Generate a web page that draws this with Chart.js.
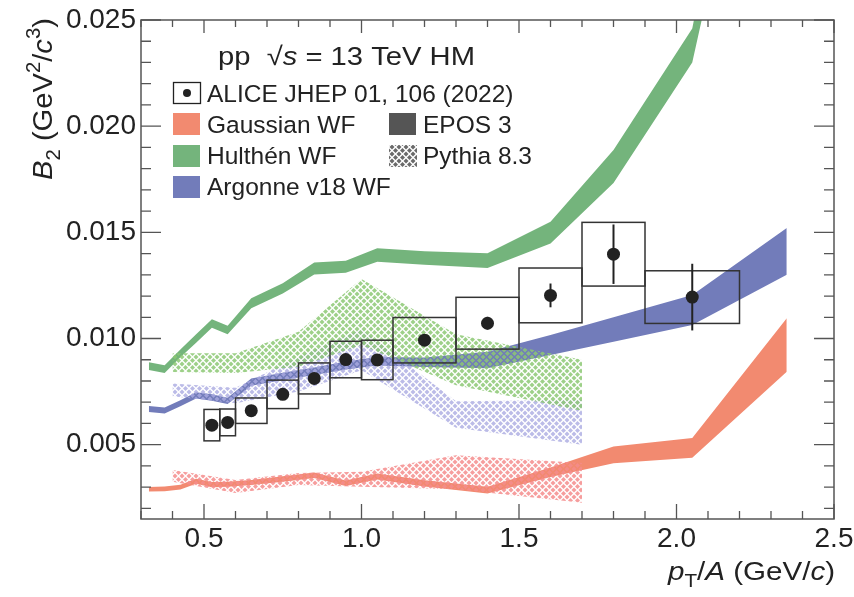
<!DOCTYPE html>
<html><head><meta charset="utf-8">
<script src="https://cdn.jsdelivr.net/npm/chart.js@4.4.1/dist/chart.umd.min.js"></script>
<style>html,body{margin:0;padding:0;background:#fff;}#wrap{width:854px;height:597px;}</style>
</head><body><div id="wrap"><canvas id="c" width="854" height="597"></canvas></div>
<script>
// ---------- data ----------
const xTicks = [0.5, 1.0, 1.5, 2.0, 2.5];
const yTicks = [0.005, 0.010, 0.015, 0.020, 0.025];

// ALICE measurement
const aliceX    = [0.525, 0.575, 0.65, 0.75, 0.85, 0.95, 1.05, 1.2, 1.4, 1.6, 1.8, 2.05];
const aliceXLo  = [0.50, 0.55, 0.60, 0.70, 0.80, 0.90, 1.00, 1.10, 1.30, 1.50, 1.70, 1.90];
const aliceXHi  = [0.55, 0.60, 0.70, 0.80, 0.90, 1.00, 1.10, 1.30, 1.50, 1.70, 1.90, 2.20];
const aliceB2   = [0.00592, 0.00605, 0.00660, 0.00737, 0.00812, 0.00901, 0.00899, 0.00992, 0.01072, 0.01203, 0.01397, 0.01195];
const aliceStat = [0.00008, 0.00008, 0.00008, 0.00008, 0.00010, 0.00010, 0.00010, 0.00015, 0.00030, 0.00056, 0.00140, 0.00157];
const aliceSyst = [0.00074, 0.00063, 0.00060, 0.00067, 0.00073, 0.00086, 0.00093, 0.00107, 0.00122, 0.00129, 0.00150, 0.00124];

// EPOS 3 coalescence bands
const thX = [0.325, 0.375, 0.425, 0.475, 0.525, 0.575, 0.65, 0.75, 0.85, 0.95, 1.05, 1.2, 1.4, 1.6, 1.8, 2.05, 2.35];
const gaussLo = [0.00279, 0.00281, 0.00289, 0.00316, 0.00300, 0.00302, 0.00310, 0.00325, 0.00343, 0.00305, 0.00336, 0.00303, 0.00270, 0.00348, 0.00412, 0.00438, 0.00844];
const gaussHi = [0.00301, 0.00303, 0.00311, 0.00340, 0.00324, 0.00326, 0.00334, 0.00351, 0.00369, 0.00331, 0.00364, 0.00333, 0.00302, 0.00392, 0.00492, 0.00532, 0.01095];
const hulthenLo = [0.00852, 0.00838, 0.00912, 0.00980, 0.01051, 0.01020, 0.01142, 0.01212, 0.01302, 0.01310, 0.01361, 0.01347, 0.01332, 0.01448, 0.01732, 0.02300, 0.04300];
const hulthenHi = [0.00888, 0.00874, 0.00948, 0.01020, 0.01091, 0.01060, 0.01190, 0.01260, 0.01358, 0.01366, 0.01425, 0.01411, 0.01402, 0.01550, 0.01888, 0.02460, 0.04700];
const argonneLo = [0.00654, 0.00647, 0.00681, 0.00717, 0.00707, 0.00691, 0.00778, 0.00805, 0.00828, 0.00854, 0.00873, 0.00866, 0.00860, 0.00922, 0.00985, 0.01064, 0.01300];
const argonneHi = [0.00682, 0.00675, 0.00709, 0.00747, 0.00737, 0.00721, 0.00812, 0.00839, 0.00864, 0.00892, 0.00913, 0.00910, 0.00938, 0.01016, 0.01100, 0.01205, 0.01520];

// Pythia 8.3 coalescence bands
const pyX = [0.4, 0.6, 0.8, 1.0, 1.3, 1.7];
const pyGaussLo   = [0.00326, 0.00272, 0.00310, 0.00302, 0.00290, 0.00226];
const pyGaussHi   = [0.00381, 0.00334, 0.00367, 0.00373, 0.00450, 0.00414];
const pyHulthenLo = [0.00842, 0.00838, 0.00867, 0.00970, 0.00780, 0.00660];
const pyHulthenHi = [0.00930, 0.00930, 0.01032, 0.01280, 0.01020, 0.00900];
const pyArgonneLo = [0.00728, 0.00695, 0.00750, 0.00850, 0.00580, 0.00500];
const pyArgonneHi = [0.00788, 0.00768, 0.00913, 0.01045, 0.00705, 0.00710];

// ---------- styling ----------
const FONT = '"Liberation Sans", Arial, Helvetica, sans-serif';
const TXT = '#222';
const C_GAUSS = 'rgb(242,138,112)';
const C_HULT = 'rgb(116,180,124)';
const C_ARG = 'rgb(114,124,186)';

function hatch(color){
  const n = 7, r = 2.5;
  const c = document.createElement('canvas'); c.width = n; c.height = n;
  const g = c.getContext('2d'); g.fillStyle = color;
  const d = (cx, cy) => { g.beginPath(); g.moveTo(cx, cy - r); g.lineTo(cx + r, cy); g.lineTo(cx, cy + r); g.lineTo(cx - r, cy); g.closePath(); g.fill(); };
  d(n / 2, n / 2); d(0, 0); d(n, 0); d(0, n); d(n, n);
  return g.createPattern(c, 'repeat');
}

const pts = (xs, ys) => xs.map((x, i) => ({x: x, y: ys[i]}));
const datasets = [];
function band(xs, lo, hi, fillStyle, order){
  datasets.push({type: 'line', data: pts(xs, lo), borderWidth: 0, pointRadius: 0, fill: false, order: order, tension: 0});
  datasets.push({type: 'line', data: pts(xs, hi), borderWidth: 0, pointRadius: 0, fill: '-1', backgroundColor: fillStyle, order: order, tension: 0});
}
band(thX, gaussLo, gaussHi, C_GAUSS, 3);
band(thX, hulthenLo, hulthenHi, C_HULT, 3);
band(thX, argonneLo, argonneHi, C_ARG, 3);
band(pyX, pyGaussLo, pyGaussHi, hatch('rgba(245,140,140,0.85)'), 2);
band(pyX, pyHulthenLo, pyHulthenHi, hatch('rgba(140,200,115,0.85)'), 2);
band(pyX, pyArgonneLo, pyArgonneHi, hatch('rgba(170,170,225,0.8)'), 2);
const POINTS_IDX = datasets.length;
datasets.push({type: 'scatter', data: pts(aliceX, aliceB2), pointRadius: 6.5, pointHoverRadius: 6.5, pointBackgroundColor: '#222', pointBorderWidth: 0, order: 0});

// rich text: parts = [[text, style]], style '' | 'i' | 'sub' | 'sup'; optional target width (horizontal stretch)
function richText(ctx, x, y, parts, size, align, target){
  const m = parts.map(p => {
    const small = (p[1] === 'sub' || p[1] === 'sup');
    const s = small ? size * 0.7 : size;
    const font = (p[1] === 'i' ? 'italic ' : '') + s + 'px ' + FONT;
    ctx.font = font;
    return {t: p[0], font: font, w: ctx.measureText(p[0]).width, dy: p[1] === 'sub' ? size * 0.28 : (p[1] === 'sup' ? -size * 0.42 : 0)};
  });
  const w = m.reduce((s, f) => s + f.w, 0);
  const sx = target ? target / w : 1;
  ctx.save();
  ctx.translate(align === 'right' ? x - w * sx : x, y);
  ctx.scale(sx, 1);
  ctx.textAlign = 'left'; ctx.textBaseline = 'alphabetic';
  let cx = 0;
  m.forEach(f => { ctx.font = f.font; ctx.fillText(f.t, cx, f.dy); cx += f.w; });
  ctx.restore();
}

const deco = {
  id: 'deco',
  beforeDatasetDraw(chart, args){
    if (args.index !== POINTS_IDX) return;
    const ctx = chart.ctx, xs = chart.scales.x, ys = chart.scales.y;
    ctx.save();
    ctx.strokeStyle = '#333'; ctx.lineWidth = 1.5;
    aliceX.forEach((x, i) => {
      const l = xs.getPixelForValue(aliceXLo[i]), r = xs.getPixelForValue(aliceXHi[i]);
      const t = ys.getPixelForValue(aliceB2[i] + aliceSyst[i]), b = ys.getPixelForValue(aliceB2[i] - aliceSyst[i]);
      ctx.strokeRect(l, t, r - l, b - t);
    });
    ctx.strokeStyle = '#222'; ctx.lineWidth = 2;
    aliceX.forEach((x, i) => {
      const px = xs.getPixelForValue(x);
      ctx.beginPath();
      ctx.moveTo(px, ys.getPixelForValue(aliceB2[i] + aliceStat[i]));
      ctx.lineTo(px, ys.getPixelForValue(aliceB2[i] - aliceStat[i]));
      ctx.stroke();
    });
    ctx.restore();
  },
  afterDraw(chart){
    const ctx = chart.ctx, a = chart.chartArea, xs = chart.scales.x, ys = chart.scales.y;
    ctx.save();
    // frame and inward ticks on all four sides
    ctx.strokeStyle = '#555'; ctx.lineWidth = 1.5;
    ctx.strokeRect(a.left, a.top, a.right - a.left, a.bottom - a.top);
    ctx.lineWidth = 1.3;
    ctx.beginPath();
    for (let k = 3; k <= 25; k++){
      const px = xs.getPixelForValue(k / 10), major = (k % 5 === 0);
      const L = major ? 15 : 8, Lt = major ? 13 : 7;
      ctx.moveTo(px, a.bottom); ctx.lineTo(px, a.bottom - L);
      ctx.moveTo(px, a.top); ctx.lineTo(px, a.top + Lt);
    }
    for (let k = 2; k <= 25; k++){
      const py = ys.getPixelForValue(k / 1000), major = (k % 5 === 0);
      const L = major ? 20 : 10;
      ctx.moveTo(a.left, py); ctx.lineTo(a.left + L, py);
      ctx.moveTo(a.right, py); ctx.lineTo(a.right - L, py);
    }
    ctx.stroke();

    ctx.fillStyle = TXT;
    // x title
    richText(ctx, 835, 580, [['p', 'i'], ['T', 'sub'], ['/', ''], ['A', 'i'], [' (GeV/', ''], ['c', 'i'], [')', '']], 26, 'right', 167);
    // y title
    ctx.save();
    ctx.translate(52, 18); ctx.rotate(-Math.PI / 2);
    richText(ctx, 0, 0, [['B', 'i'], ['2', 'sub'], [' (GeV', ''], ['2', 'sup'], ['/', ''], ['c', 'i'], ['3', 'sup'], [')', '']], 28, 'right', 162);
    ctx.restore();

    // legend
    richText(ctx, 218, 65, [['pp  \u221A', ''], ['s', 'i'], [' = 13 TeV HM', '']], 26, 'left', 257);
    ctx.font = '24.5px ' + FONT;
    ctx.textAlign = 'left'; ctx.textBaseline = 'alphabetic';
    const rows = [102, 133, 164, 195];
    ctx.strokeStyle = '#222'; ctx.lineWidth = 1.3;
    ctx.strokeRect(173.5, 82.5, 27, 21);
    ctx.beginPath(); ctx.arc(187, 93, 4, 0, Math.PI * 2); ctx.fillStyle = '#222'; ctx.fill();
    ctx.fillStyle = TXT; ctx.fillText('ALICE JHEP 01, 106 (2022)', 207, rows[0]);
    const sw = (x, y, c) => { ctx.fillStyle = c; ctx.fillRect(x, y, 27, 22); };
    sw(173, 113, C_GAUSS); sw(173, 145, C_HULT); sw(173, 176, C_ARG);
    ctx.fillStyle = TXT;
    ctx.fillText('Gaussian WF', 207, rows[1]);
    ctx.fillText('Hulth\u00E9n WF', 207, rows[2]);
    ctx.fillText('Argonne v18 WF', 207, rows[3]);
    sw(389, 113, '#555');
    ctx.fillStyle = hatch('rgba(90,90,90,0.9)');
    ctx.fillRect(389, 145, 28, 22);
    ctx.fillStyle = TXT;
    ctx.fillText('EPOS 3', 423, rows[1]);
    ctx.fillText('Pythia 8.3', 423, rows[2]);
    ctx.restore();
  }
};

const tickFont = {family: FONT, size: 28};
new Chart(document.getElementById('c'), {
  data: {datasets: datasets},
  options: {
    responsive: false, animation: false, devicePixelRatio: 1,
    layout: {padding: {top: 20, right: 20, left: 0, bottom: 0}},
    plugins: {legend: {display: false}, tooltip: {enabled: false}},
    events: [],
    scales: {
      x: {
        type: 'linear', min: 0.3, max: 2.5,
        afterBuildTicks: s => { s.ticks = xTicks.map(v => ({value: v})); },
        afterFit: s => { s.height = 78; s.paddingLeft = 0; s.paddingRight = 0; },
        ticks: {callback: v => v.toFixed(1), font: tickFont, color: TXT, padding: 3, maxRotation: 0, autoSkip: false},
        grid: {display: false, drawTicks: false}, border: {display: false}
      },
      y: {
        type: 'linear', min: 0.0015, max: 0.025,
        afterBuildTicks: s => { s.ticks = yTicks.map(v => ({value: v})); },
        afterFit: s => { s.width = 141; s.paddingTop = 0; s.paddingBottom = 0; },
        ticks: {callback: v => v.toFixed(3), font: tickFont, color: TXT, padding: 5, autoSkip: false},
        grid: {display: false, drawTicks: false}, border: {display: false}
      }
    }
  },
  plugins: [deco]
});
</script>
</body></html>
